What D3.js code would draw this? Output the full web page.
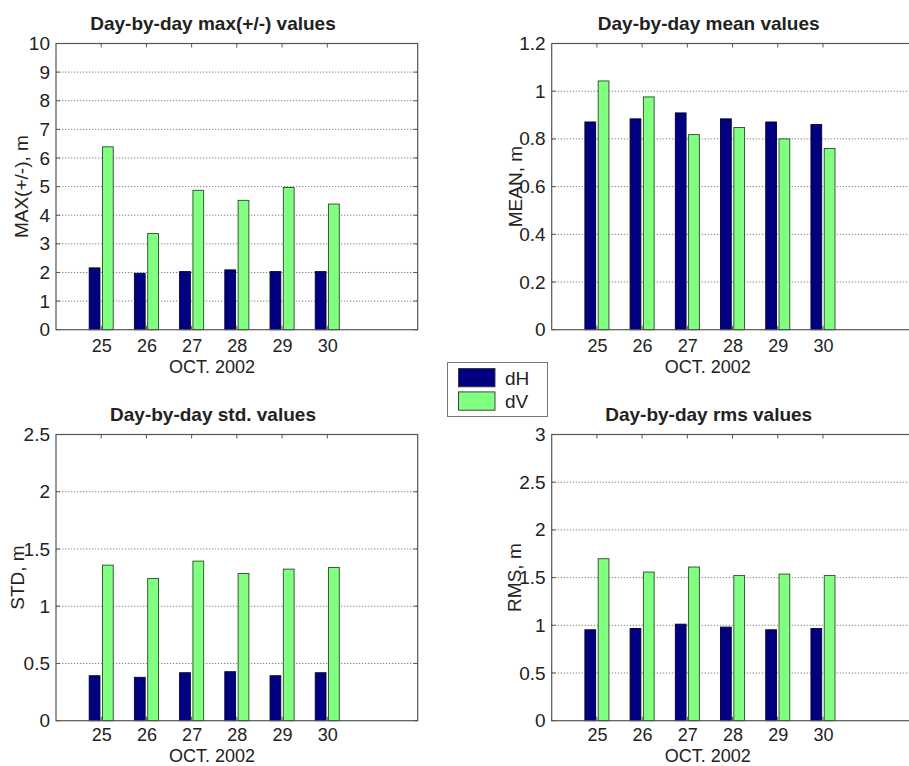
<!DOCTYPE html>
<html>
<head>
<meta charset="utf-8">
<script src="https://cdn.jsdelivr.net/npm/d3@7"></script>
<style>
  html, body { margin: 0; padding: 0; background: #ffffff; }
  svg { display: block; }
  text { font-family: "Liberation Sans", Arial, Helvetica, sans-serif; fill: #222; }
</style>
</head>
<body>
<svg id="fig" width="909" height="766"></svg>
<script>
// Days of October 2002
const days = [25, 26, 27, 28, 29, 30];
const seriesNames = ["dH", "dV"];

// Day-by-day statistics (metres)
const maxH  = [2.16, 1.97, 2.03, 2.09, 2.03, 2.03];
const maxV  = [6.39, 3.36, 4.87, 4.52, 4.97, 4.39];
const meanH = [0.871, 0.884, 0.909, 0.884, 0.871, 0.860];
const meanV = [1.043, 0.976, 0.818, 0.848, 0.800, 0.760];
const stdH  = [0.393, 0.379, 0.419, 0.428, 0.393, 0.419];
const stdV  = [1.359, 1.243, 1.394, 1.286, 1.324, 1.339];
const rmsH  = [0.953, 0.966, 1.012, 0.981, 0.953, 0.966];
const rmsV  = [1.698, 1.558, 1.611, 1.523, 1.537, 1.523];

// Axis ticks
const maxTicks  = [0, 1, 2, 3, 4, 5, 6, 7, 8, 9, 10];
const meanTicks = [0, 0.2, 0.4, 0.6, 0.8, 1, 1.2];
const stdTicks  = [0, 0.5, 1, 1.5, 2, 2.5];
const rmsTicks  = [0, 0.5, 1, 1.5, 2, 2.5, 3];

const titles  = ["Day-by-day max(+/-) values", "Day-by-day mean values",
                 "Day-by-day std. values", "Day-by-day rms values"];
const yLabels = ["MAX(+/-), m", "MEAN, m", "STD, m", "RMS, m"];
const xLabel  = "OCT. 2002";
const xDomain = [24, 32];

const panels = [
  { h: maxH,  v: maxV,  ticks: maxTicks,  left: 56,    top: 43.5,  lab: 28,   tp: 10, xl: 43 },
  { h: meanH, v: meanV, ticks: meanTicks, left: 551.7, top: 43.5,  lab: 30,   tp: 10, xl: 43 },
  { h: stdH,  v: stdV,  ticks: stdTicks,  left: 56,    top: 434.5, lab: 32,   tp: 8,  xl: 41.3 },
  { h: rmsH,  v: rmsV,  ticks: rmsTicks,  left: 551.7, top: 434.5, lab: 30.5, tp: 8,  xl: 41.3 }
];

const W = 361.7, H = 286.2;
const colors = ["#000080", "#80ff80"];
const FS = 19, FX = 18;
const svg = d3.select("#fig");

panels.forEach((p, i) => {
  const g = svg.append("g").attr("transform", `translate(${p.left},${p.top})`);
  const x = d3.scaleLinear().domain(xDomain).range([0, W]);
  const y = d3.scaleLinear().domain([0, p.ticks[p.ticks.length - 1]]).range([H, 0]);

  // dotted horizontal grid
  g.append("g").selectAll("line").data(p.ticks.slice(1, -1)).join("line")
    .attr("x1", 0).attr("x2", W)
    .attr("y1", d => y(d)).attr("y2", d => y(d))
    .attr("stroke", "#808080").attr("stroke-width", 1)
    .attr("stroke-dasharray", "1.3,1.7");

  // grouped bars
  const off = 0.147, bw = 0.238;
  const rows = days.map((d, k) => ({ d, vals: [p.h[k], p.v[k]] }));
  rows.forEach(r => {
    r.vals.forEach((val, s) => {
      const cx = r.d + (s === 0 ? -off : off);
      g.append("rect")
        .attr("x", x(cx - bw / 2))
        .attr("width", x(bw) - x(0))
        .attr("y", y(val))
        .attr("height", y(0) - y(val))
        .attr("fill", colors[s])
        .attr("stroke", s === 0 ? "#000030" : "#2a4a2a")
        .attr("stroke-width", 0.9);
    });
  });

  // axes frame
  g.append("rect").attr("x", 0).attr("y", 0).attr("width", W).attr("height", H)
    .attr("fill", "none").attr("stroke", "#555").attr("stroke-width", 1.2);

  // inward tick marks on all four sides
  const tk = 4;
  g.append("g").selectAll("line").data(p.ticks).join("line")
    .attr("x1", W - tk).attr("x2", W).attr("y1", d => y(d)).attr("y2", d => y(d))
    .attr("stroke", "#555");
  g.append("g").selectAll("line").data(p.ticks).join("line")
    .attr("x1", 0).attr("x2", tk).attr("y1", d => y(d)).attr("y2", d => y(d))
    .attr("stroke", "#555");
  g.append("g").selectAll("line").data(days).join("line")
    .attr("x1", d => x(d)).attr("x2", d => x(d)).attr("y1", 0).attr("y2", tk)
    .attr("stroke", "#555");
  g.append("g").selectAll("line").data(days).join("line")
    .attr("x1", d => x(d)).attr("x2", d => x(d)).attr("y1", H - tk).attr("y2", H)
    .attr("stroke", "#555");

  // tick labels
  const ya = g.append("g").call(d3.axisLeft(y).tickValues(p.ticks)
      .tickFormat(d3.format("~g")).tickSize(0).tickPadding(6));
  ya.select(".domain").remove();
  ya.selectAll("text").attr("font-size", FS).attr("fill", "#222")
    .style("font-family", '"Liberation Sans", Arial, sans-serif');

  const xa = g.append("g").attr("transform", `translate(0,${H})`)
    .call(d3.axisBottom(x).tickValues(days).tickFormat(d3.format("d"))
      .tickSize(0).tickPadding(p.tp));
  xa.select(".domain").remove();
  xa.selectAll("text").attr("font-size", FX).attr("fill", "#222")
    .style("font-family", '"Liberation Sans", Arial, sans-serif');

  // titles and axis labels
  g.append("text").attr("x", 157).attr("y", -14)
    .attr("text-anchor", "middle").attr("font-size", FS).attr("font-weight", "bold")
    .text(titles[i]);
  g.append("text").attr("x", 156).attr("y", H + p.xl)
    .attr("text-anchor", "middle").attr("font-size", FX)
    .text(xLabel);
  g.append("text")
    .attr("transform", `translate(${-p.lab},${H / 2}) rotate(-90)`)
    .attr("text-anchor", "middle").attr("font-size", FS)
    .text(yLabels[i]);
});

// legend
const lg = svg.append("g").attr("transform", "translate(447.5,362.5)");
lg.append("rect").attr("width", 100).attr("height", 54)
  .attr("fill", "#fff").attr("stroke", "#777").attr("stroke-width", 1);
seriesNames.forEach((name, s) => {
  lg.append("rect").attr("x", 11).attr("y", 6 + s * 23.4)
    .attr("width", 36.5).attr("height", 18.3)
    .attr("fill", colors[s]).attr("stroke", "#333").attr("stroke-width", 0.9);
  lg.append("text").attr("x", 57.5).attr("y", 22.5 + s * 23.2)
    .attr("font-size", FS).text(name);
});
</script>
</body>
</html>
